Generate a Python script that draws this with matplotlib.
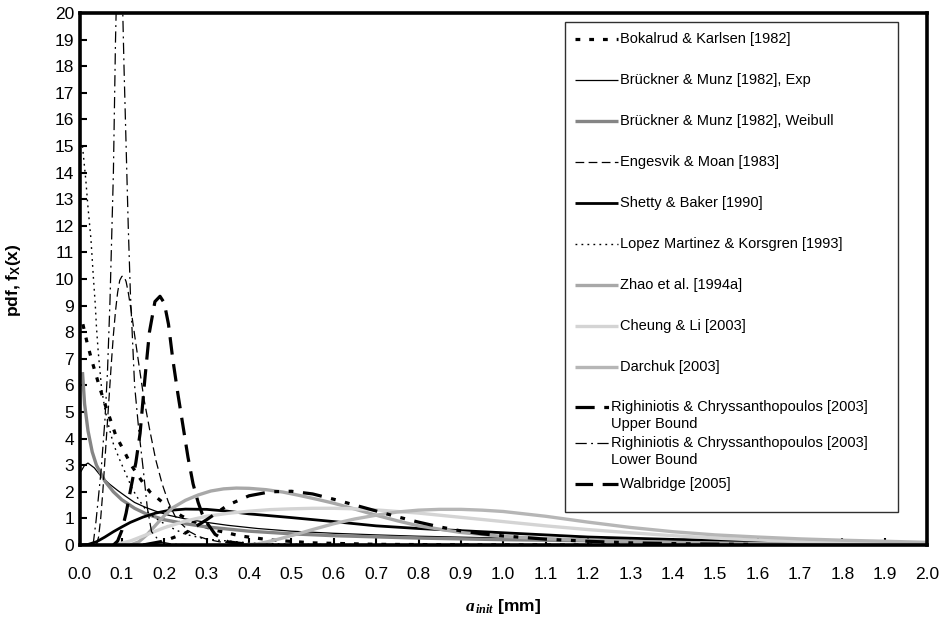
import numpy as np
import matplotlib.pyplot as plt
from matplotlib.lines import Line2D
from matplotlib.patches import Rectangle

plt.rcParams['font.family'] = ['Liberation Sans', 'DejaVu Sans']
plt.rcParams['mathtext.fontset'] = 'custom'
plt.rcParams['mathtext.rm'] = 'Liberation Sans'
plt.rcParams['mathtext.it'] = 'Liberation Serif:italic:bold'
plt.rcParams['mathtext.bf'] = 'Liberation Sans:bold'

# pdf curves of initial crack depth a_init [mm]
bok_x = [0.008, 0.018, 0.028, 0.037, 0.048, 0.06, 0.071, 0.086, 0.103, 0.122, 0.145, 0.166,
         0.204, 0.24, 0.28, 0.32, 0.38, 0.45, 0.55, 0.7, 0.9, 1.2, 2.0]
bok_y = [8.3, 7.6, 7.0, 6.5, 5.9, 5.3, 4.8, 4.1, 3.6, 3.0, 2.45, 2.0,
         1.5, 1.1, 0.78, 0.56, 0.34, 0.19, 0.08, 0.025, 0.006, 0.0, 0.0]

bmexp_x = [0.003, 0.012, 0.02, 0.035, 0.05, 0.07, 0.09, 0.11, 0.13, 0.155, 0.18, 0.21, 0.25,
           0.3, 0.35, 0.42, 0.5, 0.6, 0.7, 0.8, 1.0, 1.2, 1.5, 1.8, 2.0]
bmexp_y = [2.75, 3.0, 3.08, 2.9, 2.6, 2.3, 2.05, 1.82, 1.6, 1.42, 1.27, 1.12, 0.98,
           0.85, 0.74, 0.62, 0.52, 0.44, 0.38, 0.33, 0.26, 0.21, 0.16, 0.12, 0.1]

bmwb_x = [0.007, 0.012, 0.02, 0.03, 0.04, 0.06, 0.08, 0.1, 0.13, 0.16, 0.2, 0.25, 0.3,
          0.4, 0.5, 0.6, 0.8, 1.0, 1.3, 1.6, 2.0]
bmwb_y = [6.5, 5.3, 4.3, 3.5, 3.0, 2.4, 2.0, 1.7, 1.38, 1.15, 0.95, 0.8, 0.68,
          0.52, 0.42, 0.35, 0.26, 0.2, 0.14, 0.1, 0.07]

eng_x = [0.04, 0.045, 0.05, 0.055, 0.06, 0.065, 0.07, 0.075, 0.08, 0.085, 0.09, 0.095, 0.1,
         0.105, 0.11, 0.115, 0.122, 0.13, 0.14, 0.152, 0.166, 0.18, 0.195, 0.21, 0.225, 0.24,
         0.26, 0.28, 0.3, 0.33, 0.37, 0.42, 0.5]
eng_y = [0.0, 0.3, 1.0, 2.0, 3.2, 4.4, 5.6, 6.8, 7.9, 8.8, 9.5, 9.95, 10.1,
         10.1, 9.9, 9.5, 8.8, 7.9, 6.8, 5.5, 4.3, 3.2, 2.3, 1.6, 1.1, 0.8,
         0.5, 0.33, 0.22, 0.12, 0.06, 0.03, 0.01]

shb_x = [0.0, 0.02, 0.04, 0.06, 0.08, 0.1, 0.12, 0.15, 0.18, 0.21, 0.25, 0.3, 0.35, 0.4,
         0.5, 0.6, 0.7, 0.8, 0.9, 1.0, 1.2, 1.4, 1.6, 1.8, 2.0]
shb_y = [0.0, 0.02, 0.12, 0.3, 0.5, 0.68, 0.85, 1.05, 1.2, 1.3, 1.35, 1.34, 1.27, 1.17,
         1.03, 0.88, 0.72, 0.62, 0.54, 0.46, 0.3, 0.21, 0.15, 0.11, 0.08]

lmk_x = [0.007, 0.015, 0.02, 0.027, 0.033, 0.037, 0.04, 0.044, 0.048, 0.052, 0.06, 0.07,
         0.08, 0.095, 0.11, 0.125, 0.14, 0.16, 0.18, 0.21, 0.25, 0.3, 0.4, 0.5, 0.7]
lmk_y = [15.0, 13.7, 12.7, 11.5, 10.0, 9.1, 8.2, 7.3, 6.6, 5.9, 5.1, 4.4,
         3.8, 3.2, 2.65, 2.1, 1.7, 1.25, 1.0, 0.7, 0.4, 0.22, 0.08, 0.03, 0.01]

zhao_x = [0.12, 0.14, 0.16, 0.18, 0.2, 0.22, 0.25, 0.28, 0.31, 0.34, 0.37, 0.4, 0.44, 0.48,
          0.52, 0.56, 0.6, 0.65, 0.7, 0.75, 0.8, 0.9, 1.0, 1.1, 1.2, 1.4, 1.6, 1.8, 2.0]
zhao_y = [0.0, 0.12, 0.4, 0.75, 1.1, 1.4, 1.68, 1.88, 2.03, 2.11, 2.14, 2.13, 2.08, 1.99,
          1.86, 1.72, 1.57, 1.35, 1.12, 0.91, 0.72, 0.47, 0.32, 0.24, 0.18, 0.1, 0.05, 0.03, 0.02]

chl_x = [0.08, 0.12, 0.16, 0.2, 0.25, 0.3, 0.35, 0.4, 0.45, 0.5, 0.55, 0.6, 0.65, 0.7, 0.8,
         0.9, 1.0, 1.1, 1.2, 1.3, 1.4, 1.5, 1.6, 1.7, 1.8, 1.9, 2.0]
chl_y = [0.0, 0.15, 0.4, 0.65, 0.9, 1.08, 1.19, 1.27, 1.33, 1.36, 1.38, 1.38, 1.36, 1.32, 1.2,
         1.04, 0.88, 0.72, 0.58, 0.46, 0.35, 0.26, 0.19, 0.13, 0.09, 0.06, 0.04]

dar_x = [0.38, 0.42, 0.46, 0.5, 0.55, 0.6, 0.65, 0.7, 0.75, 0.8, 0.85, 0.9, 0.95, 1.0, 1.1,
         1.2, 1.3, 1.4, 1.5, 1.6, 1.7, 1.8, 1.9, 2.0]
dar_y = [0.0, 0.04, 0.18, 0.35, 0.58, 0.8, 0.98, 1.12, 1.24, 1.31, 1.34, 1.34, 1.31, 1.26, 1.08,
         0.86, 0.66, 0.5, 0.38, 0.3, 0.23, 0.18, 0.14, 0.1]

rcu_x = [0.15, 0.2, 0.25, 0.3, 0.35, 0.4, 0.45, 0.5, 0.55, 0.6, 0.65, 0.7, 0.75, 0.8, 0.85,
         0.9, 0.95, 1.0, 1.1, 1.2, 1.3, 1.45, 1.6]
rcu_y = [0.0, 0.15, 0.45, 0.95, 1.5, 1.85, 2.0, 2.02, 1.92, 1.72, 1.5, 1.28, 1.06, 0.86, 0.68,
         0.53, 0.42, 0.34, 0.22, 0.14, 0.08, 0.04, 0.02]

rcl_x = [0.032, 0.039, 0.051, 0.06, 0.066, 0.072, 0.08, 0.085, 0.09, 0.095, 0.1, 0.105, 0.11,
         0.115, 0.12, 0.13, 0.14, 0.15, 0.16, 0.17, 0.19, 0.22, 0.26, 0.3]
rcl_y = [0.0, 0.9, 2.8, 4.7, 6.5, 9.2, 14.0, 19.0, 22.5, 23.5, 21.5, 18.0, 15.0,
         12.0, 9.5, 6.0, 4.3, 2.9, 1.4, 0.5, 0.12, 0.03, 0.01, 0.0]

wal_x = [0.08, 0.09, 0.1, 0.11, 0.122, 0.133, 0.143, 0.154, 0.165, 0.178, 0.19, 0.2, 0.21,
         0.22, 0.232, 0.244, 0.256, 0.268, 0.28, 0.29, 0.3, 0.32, 0.35, 0.4]
wal_y = [0.0, 0.15, 0.55, 1.2, 2.2, 3.1, 4.2, 6.2, 8.0, 9.15, 9.35, 9.1, 8.3,
         7.0, 5.7, 4.5, 3.3, 2.3, 1.6, 1.15, 0.85, 0.4, 0.12, 0.02]

labels = [
    ["Bokalrud & Karlsen [1982]"],
    ["Brückner & Munz [1982], Exp"],
    ["Brückner & Munz [1982], Weibull"],
    ["Engesvik & Moan [1983]"],
    ["Shetty & Baker [1990]"],
    ["Lopez Martinez & Korsgren [1993]"],
    ["Zhao et al. [1994a]"],
    ["Cheung & Li [2003]"],
    ["Darchuk [2003]"],
    ["Righiniotis & Chryssanthopoulos [2003]", "Upper Bound"],
    ["Righiniotis & Chryssanthopoulos [2003]", "Lower Bound"],
    ["Walbridge [2005]"],
]

styles = [
    dict(color='black', lw=2.3, ls=(0, (1.5, 2.8))),
    dict(color='black', lw=0.9, ls='-'),
    dict(color='#858585', lw=2.4, ls='-'),
    dict(color='black', lw=0.9, ls=(0, (7, 3.5))),
    dict(color='black', lw=2.0, ls='-'),
    dict(color='black', lw=1.0, ls=(0, (1.3, 3))),
    dict(color='#a8a8a8', lw=2.4, ls='-'),
    dict(color='#d4d4d4', lw=2.4, ls='-'),
    dict(color='#b6b6b6', lw=2.4, ls='-'),
    dict(color='black', lw=2.3, ls=(0, (6, 3, 1.5, 3, 1.5, 3))),
    dict(color='black', lw=0.9, ls=(0, (9, 3.5, 1.5, 3.5))),
    dict(color='black', lw=2.3, ls=(0, (5.5, 3))),
]

xs = [bok_x, bmexp_x, bmwb_x, eng_x, shb_x, lmk_x, zhao_x, chl_x, dar_x, rcu_x, rcl_x, wal_x]
ys = [bok_y, bmexp_y, bmwb_y, eng_y, shb_y, lmk_y, zhao_y, chl_y, dar_y, rcu_y, rcl_y, wal_y]

W, H = 945, 623
fig = plt.figure(figsize=(W / 100, H / 100), dpi=100)
ax = fig.add_axes([79.5 / W, 1 - 545 / H, (927 - 79.5) / W, (545 - 13) / H])

for x, y, st in zip(xs, ys, styles):
    ax.plot(x, y, solid_capstyle='butt', **st)

ax.set_xlim(0, 2)
ax.set_ylim(0, 20)
xt = np.round(np.arange(0, 2.01, 0.1), 1)
ax.set_xticks(xt)
ax.set_xticklabels([f'{v:.1f}' for v in xt])
ax.set_yticks(range(0, 21))
ax.tick_params(direction='in', length=5, width=1.5, labelsize=12.5)
ax.tick_params(axis='x', pad=16)
ax.tick_params(axis='y', pad=4)
for sp in ax.spines.values():
    sp.set_linewidth(2.6)

fig.text(503 / W, 1 - 606 / H, r'$\mathit{a}_{\,\mathit{init}}$ [mm]', ha='center', va='center',
         fontsize=12.5, fontweight='bold')
fig.text(14 / W, 1 - 280 / H, r'pdf, f$_{\mathbf{X}}$(x)', rotation=90, ha='center', va='center',
         fontsize=12.5, fontweight='bold')

# legend drawn by hand so the two-line entries sit like in the report
fig.add_artist(Rectangle((565 / W, 1 - 512 / H), (898 - 565) / W, (512 - 22) / H,
                         transform=fig.transFigure, fill=False, ec='#303030', lw=1.0))
rows = [39, 80, 121, 162, 203, 244, 285, 326, 367, 407, 443, 484]
line_gap = 17
for lab, st, yr in zip(labels, styles, rows):
    fy = 1 - yr / H
    x_txt = 620 if len(lab) == 1 else 611
    x_end = 618 if len(lab) == 1 else 610
    fig.add_artist(Line2D([575 / W, x_end / W], [fy, fy], transform=fig.transFigure,
                          solid_capstyle='butt', **st))
    for k, line in enumerate(lab):
        fig.text(x_txt / W, 1 - (yr + k * line_gap) / H, line, ha='left', va='center',
                 fontsize=10.5)

fig.savefig('out.png', dpi=100)
